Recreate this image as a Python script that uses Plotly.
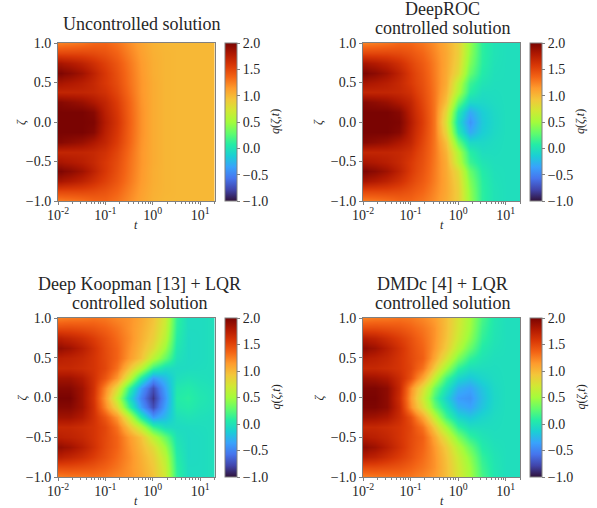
import plotly.graph_objects as go

t_edges = [0.01, 0.0135, 0.024, 0.042, 0.075, 0.133, 0.24, 0.42, 0.75, 1.33, 2.4, 4.2, 7.5, 13.3, 20]
zeta_values = [-1, -0.875, -0.75, -0.625, -0.5, -0.375, -0.25, -0.125, 0, 0.125, 0.25, 0.375, 0.5, 0.625, 0.75, 0.875, 1]
panel_title_lines = [["Uncontrolled solution"], ["DeepROC", "controlled solution"],
                     ["Deep Koopman [13] + LQR", "controlled solution"], ["DMDc [4] + LQR", "controlled solution"]]
x_tick_values = [0.01, 0.1, 1, 10]
x_tick_labels = ["10<sup>-2</sup>", "10<sup>-1</sup>", "10<sup>0</sup>", "10<sup>1</sup>"]
x_minor_ticks = [0.02, 0.03, 0.04, 0.05, 0.06, 0.07, 0.08, 0.09, 0.2, 0.3, 0.4, 0.5, 0.6, 0.7, 0.8, 0.9,
                 2, 3, 4, 5, 6, 7, 8, 9, 20]

uncontrolled = [
    [1.25, 1.27, 1.30, 1.35, 1.36, 1.30, 1.20, 1.10, 1.03, 1.00, 1.00, 1.00, 1.00, 1.00],
    [1.50, 1.50, 1.50, 1.48, 1.44, 1.36, 1.24, 1.12, 1.04, 1.01, 1.00, 1.00, 1.00, 1.00],
    [1.82, 1.78, 1.72, 1.63, 1.53, 1.42, 1.28, 1.14, 1.05, 1.01, 1.00, 1.00, 1.00, 1.00],
    [1.98, 1.93, 1.85, 1.72, 1.58, 1.45, 1.30, 1.15, 1.05, 1.01, 1.00, 1.00, 1.00, 1.00],
    [1.82, 1.79, 1.75, 1.68, 1.58, 1.47, 1.31, 1.16, 1.06, 1.01, 1.00, 1.00, 1.00, 1.00],
    [1.70, 1.70, 1.70, 1.68, 1.62, 1.50, 1.33, 1.16, 1.06, 1.01, 1.00, 1.00, 1.00, 1.00],
    [1.95, 1.92, 1.88, 1.80, 1.70, 1.55, 1.36, 1.17, 1.06, 1.01, 1.00, 1.00, 1.00, 1.00],
    [2.00, 2.00, 2.00, 1.95, 1.74, 1.58, 1.37, 1.18, 1.06, 1.01, 1.00, 1.00, 1.00, 1.00],
    [2.00, 2.00, 2.00, 1.98, 1.77, 1.60, 1.38, 1.18, 1.06, 1.01, 1.00, 1.00, 1.00, 1.00],
    [2.00, 2.00, 2.00, 1.95, 1.74, 1.58, 1.37, 1.18, 1.06, 1.01, 1.00, 1.00, 1.00, 1.00],
    [1.95, 1.92, 1.88, 1.80, 1.70, 1.55, 1.36, 1.17, 1.06, 1.01, 1.00, 1.00, 1.00, 1.00],
    [1.70, 1.70, 1.70, 1.68, 1.62, 1.50, 1.33, 1.16, 1.06, 1.01, 1.00, 1.00, 1.00, 1.00],
    [1.82, 1.79, 1.75, 1.68, 1.58, 1.47, 1.31, 1.16, 1.06, 1.01, 1.00, 1.00, 1.00, 1.00],
    [1.98, 1.93, 1.85, 1.72, 1.58, 1.45, 1.30, 1.15, 1.05, 1.01, 1.00, 1.00, 1.00, 1.00],
    [1.82, 1.78, 1.72, 1.63, 1.53, 1.42, 1.28, 1.14, 1.05, 1.01, 1.00, 1.00, 1.00, 1.00],
    [1.50, 1.50, 1.50, 1.48, 1.44, 1.36, 1.24, 1.12, 1.04, 1.01, 1.00, 1.00, 1.00, 1.00],
    [1.25, 1.27, 1.30, 1.35, 1.36, 1.30, 1.20, 1.10, 1.03, 1.00, 1.00, 1.00, 1.00, 1.00],
]

deeproc = [
    [1.25, 1.27, 1.30, 1.35, 1.35, 1.29, 1.19, 1.06, 0.88, 0.45, 0.10, 0.00, -0.03, -0.03],
    [1.50, 1.50, 1.50, 1.48, 1.43, 1.35, 1.22, 1.08, 0.88, 0.43, 0.10, 0.00, -0.03, -0.03],
    [1.82, 1.78, 1.72, 1.63, 1.51, 1.40, 1.25, 1.08, 0.85, 0.38, 0.09, -0.01, -0.03, -0.03],
    [1.98, 1.93, 1.85, 1.72, 1.56, 1.43, 1.26, 1.07, 0.80, 0.30, 0.06, -0.02, -0.03, -0.03],
    [1.82, 1.79, 1.75, 1.68, 1.57, 1.45, 1.27, 1.06, 0.62, 0.15, 0.01, -0.03, -0.03, -0.03],
    [1.70, 1.70, 1.70, 1.68, 1.62, 1.47, 1.28, 1.02, 0.55, 0.08, -0.04, -0.04, -0.03, -0.03],
    [1.95, 1.92, 1.88, 1.80, 1.70, 1.50, 1.28, 0.95, 0.30, -0.08, -0.08, -0.05, -0.03, -0.03],
    [2.00, 2.00, 2.00, 1.95, 1.74, 1.53, 1.28, 0.82, 0.05, -0.32, -0.15, -0.07, -0.03, -0.03],
    [2.00, 2.00, 2.00, 1.98, 1.77, 1.55, 1.28, 0.75, -0.05, -0.42, -0.17, -0.08, -0.03, -0.03],
    [2.00, 2.00, 2.00, 1.95, 1.74, 1.53, 1.28, 0.82, 0.05, -0.32, -0.15, -0.07, -0.03, -0.03],
    [1.95, 1.92, 1.88, 1.80, 1.70, 1.50, 1.28, 0.95, 0.30, -0.08, -0.08, -0.05, -0.03, -0.03],
    [1.70, 1.70, 1.70, 1.68, 1.62, 1.47, 1.28, 1.02, 0.55, 0.08, -0.04, -0.04, -0.03, -0.03],
    [1.82, 1.79, 1.75, 1.68, 1.57, 1.45, 1.27, 1.06, 0.62, 0.15, 0.01, -0.03, -0.03, -0.03],
    [1.98, 1.93, 1.85, 1.72, 1.56, 1.43, 1.26, 1.07, 0.80, 0.30, 0.06, -0.02, -0.03, -0.03],
    [1.82, 1.78, 1.72, 1.63, 1.51, 1.40, 1.25, 1.08, 0.85, 0.38, 0.09, -0.01, -0.03, -0.03],
    [1.50, 1.50, 1.50, 1.48, 1.43, 1.35, 1.22, 1.08, 0.88, 0.43, 0.10, 0.00, -0.03, -0.03],
    [1.25, 1.27, 1.30, 1.35, 1.35, 1.29, 1.19, 1.06, 0.88, 0.45, 0.10, 0.00, -0.03, -0.03],
]

koopman = [
    [1.25, 1.27, 1.28, 1.30, 1.28, 1.22, 1.18, 1.08, 0.95, 0.70, 0.12, -0.05, -0.05, -0.03],
    [1.48, 1.48, 1.46, 1.43, 1.37, 1.29, 1.18, 1.06, 0.92, 0.66, 0.10, -0.05, -0.05, -0.03],
    [1.74, 1.70, 1.64, 1.55, 1.45, 1.33, 1.20, 1.04, 0.88, 0.60, 0.07, -0.06, -0.05, -0.03],
    [1.90, 1.85, 1.75, 1.62, 1.48, 1.36, 1.18, 1.00, 0.80, 0.48, 0.03, -0.06, -0.05, -0.03],
    [1.74, 1.72, 1.68, 1.60, 1.49, 1.36, 1.15, 0.95, 0.60, 0.30, -0.01, -0.06, -0.05, -0.03],
    [1.68, 1.68, 1.65, 1.60, 1.50, 1.30, 0.95, 0.60, 0.15, -0.04, -0.06, -0.05, -0.04, -0.03],
    [1.85, 1.85, 1.78, 1.62, 1.42, 1.15, 0.65, 0.05, -0.40, -0.24, -0.03, 0.00, -0.02, -0.03],
    [1.95, 1.95, 1.85, 1.62, 1.22, 0.80, 0.15, -0.38, -0.75, -0.36, 0.03, 0.06, 0.01, -0.01],
    [2.00, 2.00, 1.85, 1.60, 1.15, 0.60, -0.05, -0.50, -0.85, -0.42, 0.06, 0.09, 0.03, 0.00],
    [1.95, 1.95, 1.85, 1.62, 1.22, 0.80, 0.15, -0.38, -0.75, -0.36, 0.03, 0.06, 0.01, -0.01],
    [1.85, 1.85, 1.78, 1.62, 1.42, 1.15, 0.65, 0.05, -0.40, -0.24, -0.03, 0.00, -0.02, -0.03],
    [1.68, 1.68, 1.65, 1.60, 1.50, 1.30, 0.95, 0.60, 0.15, -0.04, -0.06, -0.05, -0.04, -0.03],
    [1.74, 1.72, 1.68, 1.60, 1.49, 1.36, 1.15, 0.95, 0.60, 0.30, -0.01, -0.06, -0.05, -0.03],
    [1.90, 1.85, 1.75, 1.62, 1.48, 1.36, 1.18, 1.00, 0.80, 0.48, 0.03, -0.06, -0.05, -0.03],
    [1.74, 1.70, 1.64, 1.55, 1.45, 1.33, 1.20, 1.04, 0.88, 0.60, 0.07, -0.06, -0.05, -0.03],
    [1.48, 1.48, 1.46, 1.43, 1.37, 1.29, 1.18, 1.06, 0.92, 0.66, 0.10, -0.05, -0.05, -0.03],
    [1.25, 1.27, 1.28, 1.30, 1.28, 1.22, 1.18, 1.08, 0.95, 0.70, 0.12, -0.05, -0.05, -0.03],
]

dmdc = [
    [1.25, 1.27, 1.28, 1.30, 1.28, 1.22, 1.13, 0.97, 0.74, 0.50, 0.20, 0.03, -0.03, -0.03],
    [1.48, 1.48, 1.46, 1.43, 1.37, 1.29, 1.17, 0.97, 0.72, 0.48, 0.16, 0.02, -0.03, -0.03],
    [1.76, 1.72, 1.64, 1.55, 1.45, 1.33, 1.17, 0.95, 0.68, 0.42, 0.12, 0.01, -0.03, -0.03],
    [1.92, 1.86, 1.75, 1.62, 1.48, 1.36, 1.15, 0.90, 0.58, 0.30, 0.06, -0.01, -0.03, -0.03],
    [1.77, 1.74, 1.69, 1.60, 1.49, 1.38, 1.08, 0.75, 0.38, 0.12, 0.01, -0.03, -0.03, -0.03],
    [1.68, 1.68, 1.65, 1.60, 1.50, 1.30, 0.90, 0.50, 0.12, -0.03, -0.04, -0.04, -0.03, -0.03],
    [1.87, 1.85, 1.80, 1.66, 1.45, 1.10, 0.62, 0.18, -0.10, -0.18, -0.10, -0.05, -0.03, -0.03],
    [1.98, 1.98, 1.92, 1.68, 1.20, 0.80, 0.32, 0.00, -0.28, -0.35, -0.19, -0.07, -0.03, -0.03],
    [2.00, 2.00, 1.92, 1.65, 1.15, 0.70, 0.20, -0.12, -0.38, -0.42, -0.22, -0.08, -0.03, -0.03],
    [1.98, 1.98, 1.92, 1.68, 1.20, 0.80, 0.32, 0.00, -0.28, -0.35, -0.19, -0.07, -0.03, -0.03],
    [1.87, 1.85, 1.80, 1.66, 1.45, 1.10, 0.62, 0.18, -0.10, -0.18, -0.10, -0.05, -0.03, -0.03],
    [1.68, 1.68, 1.65, 1.60, 1.50, 1.30, 0.90, 0.50, 0.12, -0.03, -0.04, -0.04, -0.03, -0.03],
    [1.77, 1.74, 1.69, 1.60, 1.49, 1.38, 1.08, 0.75, 0.38, 0.12, 0.01, -0.03, -0.03, -0.03],
    [1.92, 1.86, 1.75, 1.62, 1.48, 1.36, 1.15, 0.90, 0.58, 0.30, 0.06, -0.01, -0.03, -0.03],
    [1.76, 1.72, 1.64, 1.55, 1.45, 1.33, 1.17, 0.95, 0.68, 0.42, 0.12, 0.01, -0.03, -0.03],
    [1.48, 1.48, 1.46, 1.43, 1.37, 1.29, 1.17, 0.97, 0.72, 0.48, 0.16, 0.02, -0.03, -0.03],
    [1.25, 1.27, 1.28, 1.30, 1.28, 1.22, 1.13, 0.97, 0.74, 0.50, 0.20, 0.03, -0.03, -0.03],
]

W, H = 597, 508
FONT = "Liberation Serif"
TEXT = "#262626"
LINE = "#808080"
panels = [
    (uncontrolled, 58.0, 214.5, 43.0, 201.0, 224.5, 21, 141, [24]),
    (deeproc, 363.0, 520.0, 43.0, 201.0, 529.5, 318, 442.5, [9, 28]),
    (koopman, 58.0, 214.5, 318.0, 477.0, 224.5, 21, 139, [284, 303]),
    (dmdc, 363.0, 520.0, 318.0, 477.0, 529.5, 318, 442.5, [284, 303]),
]

fig = go.Figure()
annotations = []


def label(text, px, py, size, angle=0):
    return dict(text=text, xref="paper", yref="paper", x=px / W, y=1 - py / H, xanchor="center",
                yanchor="middle", textangle=angle, showarrow=False,
                font=dict(family=FONT, size=size, color=TEXT))


for i, (z, x0, x1, y0, y1, cbx, zeta_x, title_x, title_ys) in enumerate(panels):
    n = i + 1
    fig.add_trace(go.Heatmap(
        x=t_edges, y=zeta_values, z=z, zmin=-1, zmax=2, colorscale="Turbo", zsmooth="best",
        xaxis=f"x{n}", yaxis=f"y{n}",
        colorbar=dict(
            x=cbx / W, xanchor="left", xpad=0, ypad=0, y=1 - (y0 + y1) / 2 / H, yanchor="middle",
            len=(y1 - y0) / H, lenmode="fraction", thickness=11.5, thicknessmode="pixels",
            outlinecolor=LINE, outlinewidth=1, tickmode="array",
            tickvals=[-1, -0.5, 0, 0.5, 1, 1.5, 2], tickformat=".1f", ticks="outside", ticklen=3,
            tickwidth=1, tickcolor=LINE, tickfont=dict(family=FONT, size=14, color=TEXT),
        ),
    ))
    axis_common = dict(showline=True, mirror=True, linecolor=LINE, linewidth=1, ticks="outside",
                       ticklen=3, tickwidth=1, tickcolor=LINE, showgrid=False, zeroline=False,
                       tickfont=dict(family=FONT, size=14, color=TEXT))
    fig.layout[f"xaxis{n}"] = dict(
        domain=[x0 / W, x1 / W], anchor=f"y{n}", type="log", range=[-2, 1.30103],
        tickmode="array", tickvals=x_tick_values, ticktext=x_tick_labels, ticklabelstandoff=-2,
        minor=dict(tickmode="array", tickvals=x_minor_ticks, ticks="outside", ticklen=2, tickcolor=LINE),
        **axis_common)
    fig.layout[f"yaxis{n}"] = dict(
        domain=[1 - y1 / H, 1 - y0 / H], anchor=f"x{n}", range=[-1, 1],
        tickmode="array", tickvals=[-1, -0.5, 0, 0.5, 1], tickformat=".1f",
        **axis_common)
    for line, title_y in zip(panel_title_lines[i], title_ys):
        annotations.append(label(line, title_x, title_y, 18))
    annotations.append(label("<i>t</i>", (x0 + x1) / 2, y1 + 24, 12))
    annotations.append(label("<i>ζ</i>", zeta_x, (y0 + y1) / 2, 12, -90))
    annotations.append(label("<i>q</i>(<i>ζ</i>,<i>t</i>)", cbx + 50.5, (y0 + y1) / 2, 12, -90))

fig.update_layout(width=W, height=H, margin=dict(l=0, r=0, t=0, b=0, autoexpand=False), paper_bgcolor="white",
                  plot_bgcolor="white", showlegend=False, annotations=annotations,
                  font=dict(family=FONT, color=TEXT))
fig.write_html("out.html", config={"displayModeBar": False}, post_script="document.body.style.margin='0';")
